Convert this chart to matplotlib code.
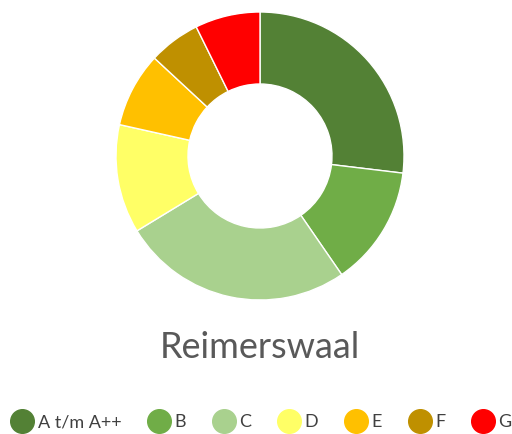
import matplotlib.pyplot as plt
from matplotlib.lines import Line2D

# energy label share (percent), read from the donut
labels = ['A t/m A++', 'B', 'C', 'D', 'E', 'F', 'G']
shares = [26.9, 13.5, 25.9, 12.2, 8.4, 5.8, 7.3]
colors = ['#538135', '#70ad47', '#a9d18e', '#ffff66', '#ffc000', '#bf9000', '#ff0000']
title = 'Reimerswaal'

W, H = 512, 434
fig = plt.figure(figsize=(W / 100, H / 100), dpi=100)

# donut
cx, cy, r = 260, 156, 144
ax = fig.add_axes([(cx - r) / W, (H - cy - r) / H, 2 * r / W, 2 * r / H])
ax.pie(shares, colors=colors, startangle=90, counterclock=False, radius=1,
       wedgeprops=dict(width=0.5, edgecolor='white', linewidth=1))
ax.set_xlim(-1, 1)
ax.set_ylim(-1, 1)
ax.set_aspect('equal')
ax.axis('off')

fig.text(cx / W, 1 - 347 / H, title, ha='center', va='center',
         fontsize=26, color='#595959', family='Lato')

handles = [Line2D([], [], marker='o', linestyle='none', markersize=17,
                  markerfacecolor=c, markeredgecolor=c) for c in colors]
fig.legend(handles, labels, loc='center', bbox_to_anchor=(0.51, 1 - 422 / H),
           ncol=len(labels), frameon=False, handletextpad=0.2,
           columnspacing=1.45, handlelength=1.3, borderpad=0, borderaxespad=0,
           labelcolor='#404040', prop=dict(family='Lato', size=13))

fig.savefig('out.png', dpi=100)
